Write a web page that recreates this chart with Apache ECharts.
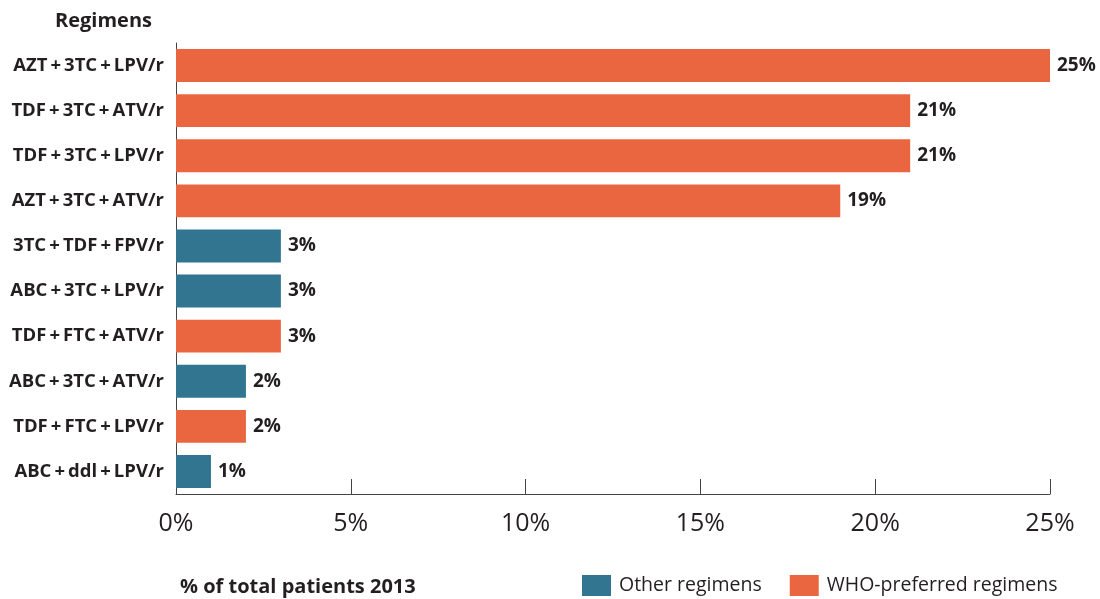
<!DOCTYPE html>
<html>
<head>
<meta charset="utf-8">
<script src="https://cdn.jsdelivr.net/npm/echarts@6/dist/echarts.min.js"></script>
<style>
  html, body { margin: 0; padding: 0; background: #fff; }
  #chart { width: 1100px; height: 599px; }
</style>
</head>
<body>
<div id="chart"></div>
<script>
// Regimens, listed top to bottom
const regimens = [
  'AZT\u2009+\u20093TC\u2009+\u2009LPV/r',
  'TDF\u2009+\u20093TC\u2009+\u2009ATV/r',
  'TDF\u2009+\u20093TC\u2009+\u2009LPV/r',
  'AZT\u2009+\u20093TC\u2009+\u2009ATV/r',
  '3TC\u2009+\u2009TDF\u2009+\u2009FPV/r',
  'ABC\u2009+\u20093TC\u2009+\u2009LPV/r',
  'TDF\u2009+\u2009FTC\u2009+\u2009ATV/r',
  'ABC\u2009+\u20093TC\u2009+\u2009ATV/r',
  'TDF\u2009+\u2009FTC\u2009+\u2009LPV/r',
  'ABC\u2009+\u2009ddl\u2009+\u2009LPV/r'
];
// Share of patients (%) per regimen; '-' where the regimen belongs to the other group
const otherRegimens = ['-', '-', '-', '-', 3, 3, '-', 2, '-', 1];
const whoPreferred  = [25, 21, 21, 19, '-', '-', 3, '-', 2, '-'];
const xTicks = [0, 5, 10, 15, 20, 25];

const TEXT = '#231f20';
const FONT = '"Open Sans", "Noto Sans", sans-serif';

const chart = echarts.init(document.getElementById('chart'));

const barLabel = {
  show: true,
  position: 'right',
  distance: 7,
  formatter: '{c}%',
  color: TEXT,
  fontFamily: FONT,
  fontWeight: 'bold',
  fontSize: 19
};

chart.setOption({
  animation: false,
  textStyle: { fontFamily: FONT },
  title: [
    {
      text: 'Regimens',
      left: 50, top: 6,
      textStyle: { color: TEXT, fontFamily: FONT, fontWeight: 'bold', fontSize: 20 }
    },
    {
      text: '% of total patients 2013',
      left: 175, top: 572,
      textStyle: { color: TEXT, fontFamily: FONT, fontWeight: 'bold', fontSize: 20 }
    }
  ],
  legend: {
    left: 582, top: 575,
    padding: 0,
    itemWidth: 29, itemHeight: 21,
    itemGap: 28,
    icon: 'rect',
    textStyle: { color: TEXT, fontFamily: FONT, fontSize: 19.5, padding: [0, 0, 0, 3] },
    data: ['Other regimens', 'WHO-preferred regimens']
  },
  grid: { left: 176, right: 50, top: 43, bottom: 105, containLabel: false },
  xAxis: {
    type: 'value',
    min: xTicks[0],
    max: xTicks[xTicks.length - 1],
    interval: 5,
    axisLine: { show: true, lineStyle: { color: '#444', width: 1 } },
    axisTick: { show: true, inside: true, length: 15, lineStyle: { color: '#444' } },
    splitLine: { show: false },
    axisLabel: {
      formatter: '{value}%',
      color: TEXT, fontFamily: FONT, fontWeight: 'normal', fontSize: 25, margin: 17
    }
  },
  yAxis: {
    type: 'category',
    inverse: true,
    data: regimens,
    axisLine: { show: true, lineStyle: { color: '#444', width: 1 } },
    axisTick: { show: false },
    axisLabel: { color: TEXT, fontFamily: FONT, fontWeight: 'bold', fontSize: 18.5, margin: 12 }
  },
  series: [
    {
      name: 'Other regimens',
      type: 'bar',
      stack: 'share',
      barWidth: '73%',
      itemStyle: { color: '#317591' },
      label: barLabel,
      data: otherRegimens
    },
    {
      name: 'WHO-preferred regimens',
      type: 'bar',
      stack: 'share',
      barWidth: '73%',
      itemStyle: { color: '#e96640' },
      label: barLabel,
      data: whoPreferred
    }
  ]
});
</script>
</body>
</html>
